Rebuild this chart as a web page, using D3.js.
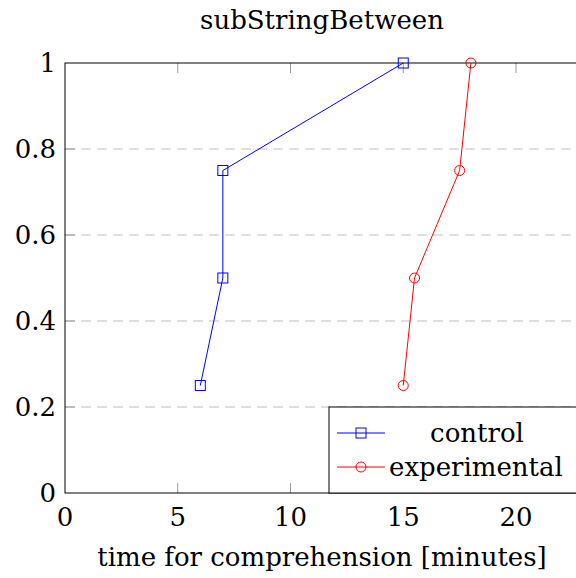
<!DOCTYPE html>
<html>
<head>
<meta charset="utf-8">
<script src="https://cdn.jsdelivr.net/npm/d3@7"></script>
<style>
  body { margin: 0; background: #fff; }
  svg { display: block; }
</style>
</head>
<body>
<div id="chart"></div>
<script>
// data
const controlX = [6, 7, 7, 15];
const controlY = [0.25, 0.5, 0.75, 1];
const experimentalX = [15, 15.5, 17.5, 18];
const experimentalY = [0.25, 0.5, 0.75, 1];
const xTicks = [0, 5, 10, 15, 20];
const yTicks = [0, 0.2, 0.4, 0.6, 0.8, 1];
const seriesNames = ['control', 'experimental'];

const width = 576, height = 578;
const plotLeft = 65, plotTop = 63, plotBottom = 493;
const font = "'DejaVu Serif', serif";
const fontSize = 26;

const svg = d3.select('#chart').append('svg')
    .attr('width', width)
    .attr('height', height)
    .attr('font-family', font);

const x = d3.scaleLinear().domain([0, 23]).range([plotLeft, plotLeft + 22.55 * 23]);
const y = d3.scaleLinear().domain([0, 1]).range([plotBottom, plotTop]);
const plotRight = x(23);

// grid lines
svg.append('g').selectAll('line')
    .data(yTicks.filter((d) => d > 0 && d < 1))
    .enter()
    .append('line')
    .attr('x1', plotLeft).attr('x2', plotRight)
    .attr('y1', (d) => y(d)).attr('y2', (d) => y(d))
    .attr('stroke', '#bfbfbf')
    .attr('stroke-width', 1)
    .attr('stroke-dasharray', '10,6');

// tick marks (inside, grey)
const tickLen = 10;
svg.append('g').selectAll('line')
    .data(xTicks.filter((d) => d > 0))
    .enter()
    .append('line')
    .attr('x1', (d) => x(d)).attr('x2', (d) => x(d))
    .attr('y1', plotBottom).attr('y2', plotBottom - tickLen)
    .attr('stroke', '#999').attr('stroke-width', 1);
svg.append('g').selectAll('line')
    .data(xTicks.filter((d) => d > 0))
    .enter()
    .append('line')
    .attr('x1', (d) => x(d)).attr('x2', (d) => x(d))
    .attr('y1', plotTop).attr('y2', plotTop + tickLen)
    .attr('stroke', '#999').attr('stroke-width', 1);
svg.append('g').selectAll('line')
    .data(yTicks.filter((d) => d > 0 && d < 1))
    .enter()
    .append('line')
    .attr('x1', plotLeft).attr('x2', plotLeft + tickLen)
    .attr('y1', (d) => y(d)).attr('y2', (d) => y(d))
    .attr('stroke', '#999').attr('stroke-width', 1);

// frame
svg.append('rect')
    .attr('x', plotLeft).attr('y', plotTop)
    .attr('width', plotRight - plotLeft).attr('height', plotBottom - plotTop)
    .attr('fill', 'none')
    .attr('stroke', '#000')
    .attr('stroke-width', 1);

// tick labels
svg.append('g').selectAll('text')
    .data(xTicks)
    .enter()
    .append('text')
    .attr('x', (d) => x(d))
    .attr('y', plotBottom + 33)
    .attr('text-anchor', 'middle')
    .attr('font-size', fontSize)
    .text((d) => d);
svg.append('g').selectAll('text')
    .data(yTicks)
    .enter()
    .append('text')
    .attr('x', plotLeft - 9)
    .attr('y', (d) => y(d) + 9)
    .attr('text-anchor', 'end')
    .attr('font-size', fontSize)
    .text((d) => d);

// title and axis label
svg.append('text')
    .attr('x', 322).attr('y', 29)
    .attr('text-anchor', 'middle')
    .attr('font-size', fontSize)
    .text('subStringBetween');
svg.append('text')
    .attr('x', 322).attr('y', 566)
    .attr('text-anchor', 'middle')
    .attr('font-size', fontSize)
    .text('time for comprehension [minutes]');

// series
const line = d3.line().x((d) => x(d[0])).y((d) => y(d[1]));
const control = controlX.map((d, i) => [d, controlY[i]]);
const experimental = experimentalX.map((d, i) => [d, experimentalY[i]]);

function drawMarker(g, kind, color, cx, cy) {
    if (kind === 'square') {
        g.append('rect')
            .attr('x', cx - 5).attr('y', cy - 5)
            .attr('width', 10).attr('height', 10)
            .attr('fill', 'none').attr('stroke', color).attr('stroke-width', 1);
    } else {
        g.append('circle')
            .attr('cx', cx).attr('cy', cy).attr('r', 5)
            .attr('fill', 'none').attr('stroke', color).attr('stroke-width', 1);
    }
}

const series = [
    { name: seriesNames[0], data: control, color: '#0000ff', marker: 'square' },
    { name: seriesNames[1], data: experimental, color: '#ff0000', marker: 'circle' }
];

series.forEach((s) => {
    const g = svg.append('g');
    g.append('path')
        .datum(s.data)
        .attr('d', line)
        .attr('fill', 'none')
        .attr('stroke', s.color)
        .attr('stroke-width', 1);
    s.data.forEach((d) => drawMarker(g, s.marker, s.color, x(d[0]), y(d[1])));
});

// legend
const legend = svg.append('g');
legend.append('rect')
    .attr('x', 329).attr('y', 407)
    .attr('width', 260).attr('height', plotBottom - 407)
    .attr('fill', '#fff')
    .attr('stroke', '#000').attr('stroke-width', 1);
series.forEach((s, i) => {
    const ly = 433 + i * 34;
    legend.append('line')
        .attr('x1', 337).attr('x2', 385)
        .attr('y1', ly).attr('y2', ly)
        .attr('stroke', s.color).attr('stroke-width', 1);
    drawMarker(legend, s.marker, s.color, 361, ly);
    legend.append('text')
        .attr('x', i === 0 ? 477 : 389)
        .attr('y', ly + 9)
        .attr('text-anchor', i === 0 ? 'middle' : 'start')
        .attr('font-size', fontSize)
        .text(s.name);
});
</script>
</body>
</html>
